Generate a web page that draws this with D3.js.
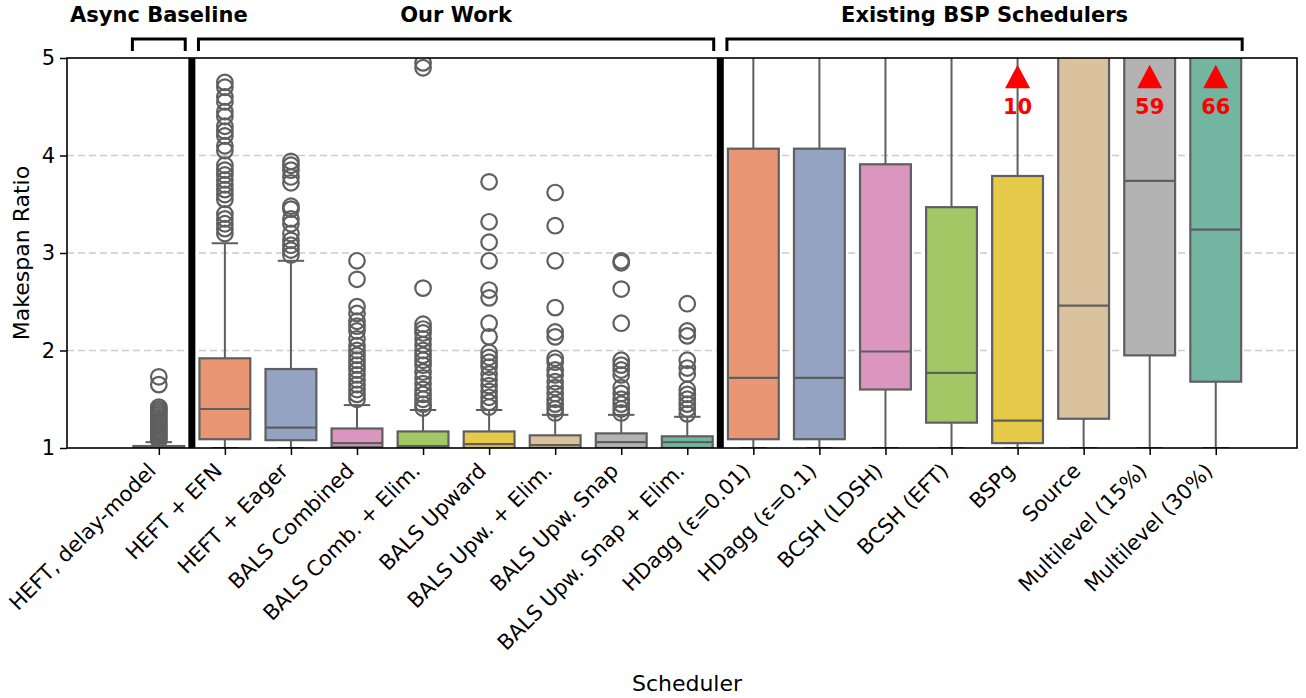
<!DOCTYPE html>
<html lang="en">
<head>
    <meta charset="UTF-8">
    <title>Makespan Ratio</title>
    <script src="https://d3js.org/d3.v7.min.js"></script>
    <style>
        body { margin: 0; background: white; }
        text { font-family: 'DejaVu Sans', sans-serif; }
        .tick text { font-size: 21px; fill: black; }
        .tick line { stroke: black; stroke-width: 1.5; }
        .domain { display: none; }
        text.axis-label { font-size: 22px; text-anchor: middle; }
        text.group-label { font-size: 21px; font-weight: bold; text-anchor: middle; }
        text.note { font-size: 21px; font-weight: bold; fill: red; text-anchor: middle; }
    </style>
</head>
<body>
<svg height="698" width="1306"></svg>
<script>
    const categories = ["HEFT, delay-model", "HEFT + EFN", "HEFT + Eager", "BALS Combined",
        "BALS Comb. + Elim.", "BALS Upward", "BALS Upw. + Elim.", "BALS Upw. Snap",
        "BALS Upw. Snap + Elim.", "HDagg (\u03b5=0.01)", "HDagg (\u03b5=0.1)", "BCSH (LDSH)",
        "BCSH (EFT)", "BSPg", "Source", "Multilevel (15%)", "Multilevel (30%)"];

    const whiskLow = [1.00, 1.00, 1.00, 1.00, 1.00, 1.00, 1.00, 1.00, 1.00, 1.00, 1.00, 1.00, 1.00, 1.00, 1.00, 1.00, 1.00];
    const q1       = [1.00, 1.09, 1.08, 1.01, 1.00, 1.00, 1.00, 1.00, 1.00, 1.09, 1.09, 1.60, 1.26, 1.05, 1.30, 1.95, 1.68];
    const median   = [1.00, 1.40, 1.21, 1.05, 1.02, 1.04, 1.03, 1.06, 1.06, 1.72, 1.72, 1.99, 1.77, 1.28, 2.46, 3.74, 3.24];
    const q3       = [1.02, 1.92, 1.81, 1.20, 1.17, 1.17, 1.13, 1.15, 1.12, 4.07, 4.07, 3.91, 3.47, 3.79, 6.2, 7.5, 8.0];
    const whiskHigh = [1.06, 3.10, 2.92, 1.44, 1.39, 1.39, 1.34, 1.34, 1.32, 8.6, 8.7, 8.2, 6.9, 10, 12, 20, 22];

    const fliers = [
        [1.08, 1.10, 1.12, 1.14, 1.16, 1.18, 1.20, 1.22, 1.24, 1.26, 1.28, 1.30, 1.32, 1.34, 1.36, 1.38, 1.40, 1.42, 1.65, 1.73],
        [3.20, 3.25, 3.30, 3.35, 3.40, 3.55, 3.60, 3.65, 3.70, 3.75, 3.80, 3.85, 3.90, 4.05, 4.10, 4.20, 4.25, 4.30, 4.40, 4.45, 4.55, 4.60, 4.70, 4.75],
        [2.98, 3.03, 3.08, 3.13, 3.20, 3.30, 3.35, 3.45, 3.48, 3.72, 3.78, 3.85, 3.90, 3.94],
        [1.50, 1.55, 1.60, 1.65, 1.70, 1.75, 1.80, 1.85, 1.90, 1.95, 2.00, 2.05, 2.12, 2.20, 2.25, 2.30, 2.38, 2.45, 2.73, 2.92],
        [1.41, 1.45, 1.50, 1.55, 1.60, 1.66, 1.72, 1.78, 1.85, 1.90, 1.95, 2.00, 2.06, 2.12, 2.18, 2.22, 2.27, 2.64, 4.90, 4.95],
        [1.42, 1.47, 1.52, 1.58, 1.64, 1.70, 1.76, 1.83, 1.88, 1.93, 1.98, 2.14, 2.28, 2.54, 2.62, 2.92, 3.11, 3.32, 3.73],
        [1.36, 1.40, 1.45, 1.50, 1.56, 1.62, 1.68, 1.75, 1.80, 1.88, 1.92, 2.14, 2.19, 2.44, 2.92, 3.28, 3.62],
        [1.36, 1.40, 1.45, 1.50, 1.56, 1.62, 1.75, 1.80, 1.85, 1.90, 2.28, 2.63, 2.90, 2.92],
        [1.35, 1.40, 1.45, 1.50, 1.55, 1.60, 1.76, 1.82, 1.90, 2.15, 2.20, 2.48],
        [], [], [], [], [], [], [], []
    ];

    const yTicks = [1, 2, 3, 4, 5];
    const gridTicks = [2, 3, 4];
    const groups = [
        {label: "Async Baseline", first: 0, last: 0},
        {label: "Our Work", first: 1, last: 8},
        {label: "Existing BSP Schedulers", first: 9, last: 16}
    ];
    const separators = [0.5, 8.5];
    const offscale = [{index: 13, label: "10"}, {index: 15, label: "59"}, {index: 16, label: "66"}];

    const set2 = d3.schemeSet2;
    const edge = "#5f5f5f";
    const mLeft = 67, mRight = 1297, mTop = 58, mBottom = 448;

    const x = d3.scaleLinear().domain([-1.39, 17.23]).range([mLeft, mRight]);
    const y = d3.scaleLinear().domain([1, 5]).range([mBottom, mTop]);
    const step = x(1) - x(0);
    const boxW = 0.8 * step;

    function boxColor(i) {
        const c = d3.hsl(set2[i % 8]);
        c.s *= 0.75;
        return c.formatHex();
    }

    const svg = d3.select("svg");
    svg.append("clipPath").attr("id", "plot")
        .append("rect").attr("x", mLeft).attr("y", mTop)
        .attr("width", mRight - mLeft).attr("height", mBottom - mTop);

    // grid
    svg.append("g").selectAll("line").data(gridTicks).enter().append("line")
        .attr("x1", mLeft).attr("x2", mRight)
        .attr("y1", y).attr("y2", y)
        .style("stroke", "#cccccc").style("stroke-width", 1.5)
        .style("stroke-dasharray", "7,4");

    const plot = svg.append("g").attr("clip-path", "url(#plot)");

    categories.forEach((name, i) => {
        const g = plot.append("g");
        const cx = x(i);
        // whiskers
        g.append("line").attr("x1", cx).attr("x2", cx)
            .attr("y1", y(q3[i])).attr("y2", y(whiskHigh[i]));
        g.append("line").attr("x1", cx).attr("x2", cx)
            .attr("y1", y(q1[i])).attr("y2", y(whiskLow[i]));
        g.append("line").attr("x1", cx - boxW / 4).attr("x2", cx + boxW / 4)
            .attr("y1", y(whiskHigh[i])).attr("y2", y(whiskHigh[i]));
        g.append("line").attr("x1", cx - boxW / 4).attr("x2", cx + boxW / 4)
            .attr("y1", y(whiskLow[i])).attr("y2", y(whiskLow[i]));
        g.selectAll("line").style("stroke", edge).style("stroke-width", 2);
        // box
        g.append("rect")
            .attr("x", cx - boxW / 2 + 1).attr("width", boxW - 2)
            .attr("y", y(q3[i])).attr("height", y(q1[i]) - y(q3[i]))
            .style("fill", boxColor(i)).style("stroke", edge).style("stroke-width", 2.2);
        g.append("line").attr("x1", cx - boxW / 2 + 1).attr("x2", cx + boxW / 2 - 1)
            .attr("y1", y(median[i])).attr("y2", y(median[i]))
            .style("stroke", edge).style("stroke-width", 2.2);
        // fliers
        g.selectAll("circle").data(fliers[i]).enter().append("circle")
            .attr("cx", cx).attr("cy", d => y(d)).attr("r", 7.8)
            .style("fill", "none").style("stroke", edge).style("stroke-width", 2.2);
    });

    // separators
    svg.append("g").selectAll("line").data(separators).enter().append("line")
        .attr("x1", x).attr("x2", x).attr("y1", mTop).attr("y2", mBottom)
        .style("stroke", "black").style("stroke-width", 7);

    // frame
    svg.append("rect").attr("x", mLeft).attr("y", mTop)
        .attr("width", mRight - mLeft).attr("height", mBottom - mTop)
        .style("fill", "none").style("stroke", "black").style("stroke-width", 1.6);

    // axes
    svg.append("g").attr("transform", `translate(${mLeft},0)`)
        .call(d3.axisLeft(y).tickValues(yTicks).tickSize(7).tickPadding(5).tickFormat(d3.format("d")));

    const xAxis = svg.append("g").attr("transform", `translate(0,${mBottom})`)
        .call(d3.axisBottom(x).tickValues(d3.range(categories.length)).tickSize(7)
            .tickFormat(i => categories[i]));
    xAxis.selectAll(".tick text")
        .attr("text-anchor", "end")
        .attr("x", -3).attr("y", 0).attr("dy", 0)
        .attr("transform", "translate(0,22) rotate(-45)");

    svg.append("text").attr("class", "axis-label")
        .attr("x", 687).attr("y", 691).text("Scheduler");
    svg.append("text").attr("class", "axis-label")
        .attr("transform", `translate(29,${(mTop + mBottom) / 2}) rotate(-90)`)
        .text("Makespan Ratio");

    // offscale markers
    const notes = svg.append("g").selectAll("g").data(offscale).enter().append("g");
    notes.append("path")
        .attr("d", d => {
            const cx = x(d.index), ty = y(4.93), by = y(4.69);
            return `M${cx},${ty}L${cx + 12.5},${by}L${cx - 12.5},${by}Z`;
        })
        .style("fill", "red");
    notes.append("text").attr("class", "note")
        .attr("x", d => x(d.index)).attr("y", y(4.43))
        .text(d => d.label);

    // group brackets
    const br = svg.append("g").selectAll("g").data(groups).enter().append("g");
    br.append("path")
        .attr("d", d => {
            const a = x(d.first - 0.4), b = x(d.last + 0.4);
            return `M${a},51V39H${b}V51`;
        })
        .style("fill", "none").style("stroke", "black").style("stroke-width", 3);
    br.append("text").attr("class", "group-label")
        .attr("x", d => (x(d.first - 0.4) + x(d.last + 0.4)) / 2).attr("y", 22)
        .text(d => d.label);
</script>
</body>
</html>
